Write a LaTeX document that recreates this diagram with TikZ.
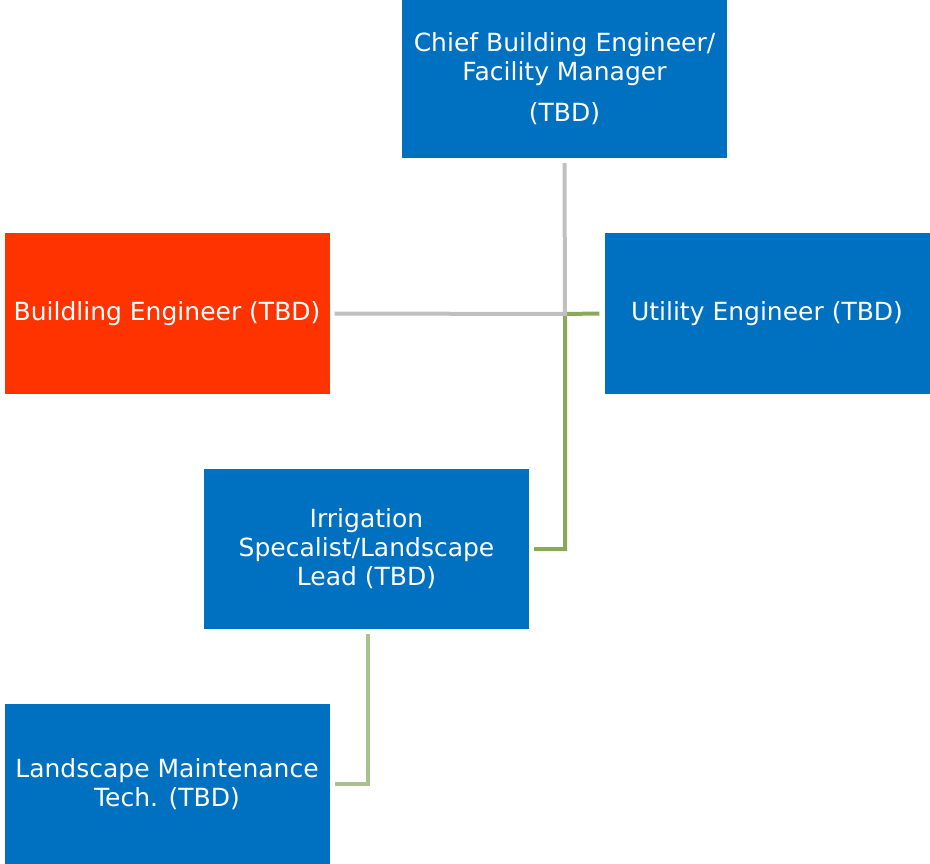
\documentclass[tikz,border=0pt]{standalone}
\usepackage{fontspec}
\setmainfont{DejaVu Sans}
\definecolor{boxblue}{HTML}{0070C0}
\definecolor{boxred}{HTML}{FF3300}
\definecolor{lngray}{HTML}{BFBFBF}
\definecolor{lngreen}{HTML}{8AA85A}
\definecolor{lnlight}{HTML}{A9C08F}
\begin{document}
\begin{tikzpicture}[x=1pt,y=-1pt,
  orgbox/.style={rectangle, fill=boxblue, draw=none, minimum width=325pt, minimum height=160pt,
    inner sep=0pt, text=white, align=center, font=\fontsize{25}{29}\selectfont},
  conn/.style={line width=4pt}
]
\useasboundingbox (0,0) rectangle (930,864);
\node[orgbox, minimum height=158pt] (chief) at (564.5,79) {Chief Building Engineer/\\Facility Manager\\[12pt](TBD)};
\node[orgbox, fill=boxred, minimum height=161pt] (beng) at (167,313.5) {Buildling Engineer (TBD)};
\node[orgbox, minimum height=161pt] (util) at (767,313.5) {Utility Engineer (TBD)};
\node[orgbox] (irr) at (366.5,549) {Irrigation\\Specalist/Landscape\\Lead (TBD)};
\node[orgbox] (land) at (167,784) {Landscape Maintenance\\Tech. (TBD)};
\coordinate (j) at (565,314);
\draw[conn, lngreen] ([xshift=-5pt]util.west) -- (j) |- ([xshift=5pt]irr.east);
\draw[conn, lngray] ([yshift=-5pt]chief.south) -- (j) -- ([xshift=5pt]beng.east);
\draw[conn, lnlight] ([xshift=1.5pt,yshift=-5pt]irr.south) |- ([xshift=5pt]land.east);
\end{tikzpicture}
\end{document}
